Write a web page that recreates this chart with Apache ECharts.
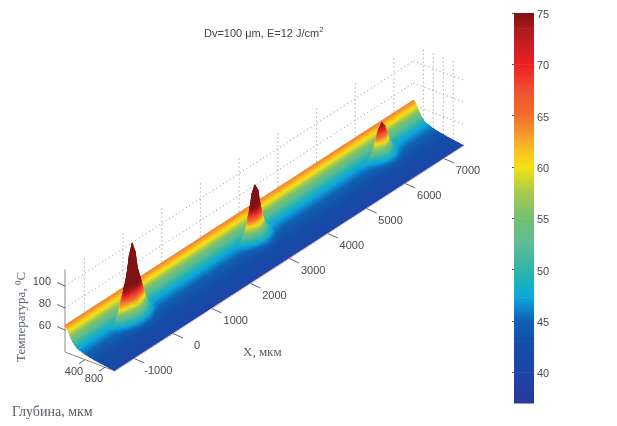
<!DOCTYPE html>
<html><head><meta charset="utf-8">
<style>html,body{margin:0;padding:0;background:#fefefe}#c{width:617px;height:426px;filter:blur(.7px)}</style>
<script src="https://cdn.jsdelivr.net/npm/echarts@6/dist/echarts.min.js"></script>
</head><body><div id="c"></div>
<script>
// ---------- values ----------
const colorT   = [37,40,43,45,46,47.3,48.5,50,52.5,55,57.5,60,61.5,63,65,67.5,70,72,73.5,75];
const colorHex = ['#2a3a9c','#1c44a6','#134ea9','#1060b2','#0d80c8','#0ea5dc','#18b0c0','#30b5a8','#5fbb94','#72c070','#a8c94f','#f2e311','#fac41e','#f59c2a','#f0702d','#ee4f2e','#ec2126','#c81d22','#a81a1c','#7f1212'];
const colorbarTicks = [40,45,50,55,60,65,70,75];
const xTicks = [-1000,0,1000,2000,3000,4000,5000,6000,7000];
const depthTicks = [400,800];
const tempTicks = [60,80,100];
const farWallDepths = [200,400,600,800];

const depthGrid    = [0,25,50,75,100,130,160,200,240,270,300,330,360,400,450,500,600,700,800,900,1000];
const baseProfile  = [64,63,61.5,59.5,57,54,52,49.8,48,47.4,46.8,46.3,45.8,45.2,44.6,44,43.2,42.4,41.7,41,40.4];
const peakDepths   = [100,130,160,200,240,270,300,330,360,400,450,500,600];
const peakOffsets  = [0,70,130,200,280,400];
const peakCenters  = [-150,3020,6300];
const peak1Rows = [
 [59,57,55,55,72,100,113,98,72,58,51,47.5,44],
 [58.5,56.3,54.4,54,68,92,104,90,68,56,50.5,47,43.9],
 [58,55.8,53.8,53,64,80,88,78,62,54,50,46.7,43.8],
 [57.5,55.2,53.2,52,60,72,78,70,58,52,49,46.3,43.6],
 [57.2,54.6,52.7,51,54,62,66,60,53,50,47.5,45.5,43.4],
 [57,54.1,52.1,50,49,50,50.5,49,47.5,47,45.5,44.5,43.3]];
const peak2Rows = [
 [58,55.5,54,53,66,86,94,84,64,54,50,47,44],
 [57.7,55.1,53.4,52.5,62,78,88,76,60,53,49.5,46.5,43.8],
 [57.4,54.6,52.8,51.5,57,68,74,66,56,51.5,48.5,46,43.6],
 [57.2,54.3,52.4,50.7,52.5,58,61,57,52.5,50,47.3,45.5,43.4],
 [57.1,54.1,52.2,50.1,49.5,51.5,53,51,49,47.8,46,44.8,43.3],
 [57,54,52,49.9,48.2,48,47.7,47,46.3,45.8,45,44.2,43.2]];
const peak3Rows = [
 [57.5,55,53.5,52,60,72,76,70,60,53,49.5,46.5,44],
 [57.4,54.8,53.2,51.5,58,68,72,66,57,51.5,49,46.2,43.8],
 [57.2,54.5,52.7,50.8,54,61,65,60,53.5,50,48,45.8,43.6],
 [57.1,54.2,52.3,50.2,50.5,54,56,53,50,48.4,46.8,45.3,43.4],
 [57,54.1,52.1,49.9,48.8,50,50.5,49,47.5,46.9,45.6,44.6,43.3],
 [57,54,52,49.8,48.1,47.8,47.4,46.8,46.2,45.6,44.9,44.2,43.2]];
const peakRows = [peak1Rows,peak2Rows,peak3Rows];
const xRange = [-1500,7500], depthRange = [0,1000], tempRange = [40,115];

// ---------- oblique view of the 3-D box ----------
const view = {ox:65, oy:352, xx:.0387, xy:-.025, dx:.05, dy:.019, tz:1.1};
function project(X,d,T){
  const u = X-xRange[0];
  return [view.ox+view.xx*u+view.dx*d, view.oy+view.xy*u+view.dy*d-view.tz*(T-tempRange[0])];
}
function hexRgb(h){return [1,3,5].map(i=>parseInt(h.substr(i,2),16));}
const colorRgb = colorHex.map(hexRgb);
function colorOf(T){
  if(T<=colorT[0]) return colorHex[0];
  const n=colorT.length-1;
  if(T>=colorT[n]) return colorHex[n];
  let i=0; while(T>colorT[i+1]) i++;
  const f=(T-colorT[i])/(colorT[i+1]-colorT[i]);
  const c=colorRgb[i].map((v,k)=>Math.round(v+(colorRgb[i+1][k]-v)*f));
  return 'rgb('+c.join(',')+')';
}
// surface rows
let surfaceX = [xRange[0],xRange[1]];
peakCenters.forEach(c=>{
  surfaceX.push(c-560,c+560);
  peakOffsets.forEach(o=>{surfaceX.push(c+o); if(o) surfaceX.push(c-o);});
});
surfaceX = surfaceX.sort((a,b)=>b-a); // far end first
function rowAt(X){
  for(let j=0;j<peakCenters.length;j++){
    const k=peakOffsets.indexOf(Math.abs(X-peakCenters[j]));
    if(k>=0) return depthGrid.map((d,i)=>{const q=peakDepths.indexOf(d);return q>=0?peakRows[j][k][q]:baseProfile[i];});
  }
  return baseProfile;
}
const surfaceData=[];
for(let a=0;a<surfaceX.length-1;a++){
  const ra=rowAt(surfaceX[a]), rb=rowAt(surfaceX[a+1]);
  for(let i=0;i<depthGrid.length-1;i++){
    surfaceData.push([surfaceX[a],surfaceX[a+1],depthGrid[i],depthGrid[i+1],ra[i],rb[i],ra[i+1],rb[i+1]]);
  }
}
// one facet shaded so the colour is continuous with its neighbours
function facet(a,b,c,Ta,Tb,Tc){
  const det=(b[0]-a[0])*(c[1]-a[1])-(c[0]-a[0])*(b[1]-a[1]);
  const lo=Math.min(Ta,Tb,Tc), hi=Math.max(Ta,Tb,Tc);
  let paint=colorOf((Ta+Tb+Tc)/3);
  if(Math.abs(det)>1e-3 && hi-lo>1e-3){
    const gx=((Tb-Ta)*(c[1]-a[1])-(b[1]-a[1])*(Tc-Ta))/det;
    const gy=((b[0]-a[0])*(Tc-Ta)-(c[0]-a[0])*(Tb-Ta))/det;
    const g2=gx*gx+gy*gy;
    if(g2>1e-9){
      const s=lo===Ta?a:(lo===Tb?b:c), k=(hi-lo)/g2;
      const stops=[0,.2,.4,.6,.8,1].map(o=>({offset:o,color:colorOf(lo+(hi-lo)*o)}));
      paint=new echarts.graphic.LinearGradient(s[0],s[1],s[0]+gx*k,s[1]+gy*k,stops,true);
    }
  }
  return {type:'polygon',shape:{points:[a,b,c]},style:{fill:paint,stroke:paint,lineWidth:1.2,lineJoin:'round'}};
}
function renderSurface(p,api){
  const v=k=>api.value(k);
  const q=[project(v(0),v(2),v(4)),project(v(1),v(2),v(5)),project(v(1),v(3),v(7)),project(v(0),v(3),v(6))].map(z=>api.coord(z));
  return {type:'group',children:[
    facet(q[0],q[1],q[2],v(4),v(5),v(7)),
    facet(q[0],q[2],q[3],v(4),v(7),v(6))
  ]};
}
// dotted walls
const gridSegs=[];
tempTicks.forEach(T=>{
  gridSegs.push([xRange[0],0,T,xRange[1],0,T]);
  gridSegs.push([xRange[1],0,T,xRange[1],depthRange[1],T]);
});
xTicks.forEach(X=>gridSegs.push([X,0,tempRange[0],X,0,tempRange[1]]));
farWallDepths.forEach(d=>gridSegs.push([xRange[1],d,tempRange[0],xRange[1],d,tempRange[1]]));
function renderSeg(style){
  return function(p,api){
    const a=api.coord(project(api.value(0),api.value(1),api.value(2)));
    const b=api.coord(project(api.value(3),api.value(4),api.value(5)));
    return {type:'line',shape:{x1:a[0],y1:a[1],x2:b[0],y2:b[1]},style:style};
  };
}
// axes lines and ticks
const zAxisSeg=[[xRange[0],0,tempRange[0],xRange[0],0,tempRange[1]]];
const dAxisSeg=[[xRange[0],0,tempRange[0],xRange[0],depthRange[1],tempRange[0]]];
const xAxisSeg=[[xRange[0],depthRange[1],tempRange[0],xRange[1],depthRange[1],tempRange[0]]];
function tickRender(getBase,dx,dy,lx,ly,align){
  return function(p,api){
    const val=api.value(0);
    const b=api.coord(project.apply(null,getBase(val)));
    return {type:'group',children:[
      {type:'line',shape:{x1:b[0],y1:b[1],x2:b[0]+dx,y2:b[1]+dy},style:{stroke:'#666',lineWidth:1}},
      {type:'text',x:b[0]+lx,y:b[1]+ly,style:{text:String(val),fill:'#4a4a4a',font:'11px "Liberation Sans"',align:align,verticalAlign:'middle'}}
    ]};
  };
}
// colorbar cells
const colorbarCells=colorT.slice(0,-1).map((t,i)=>[t,colorT[i+1],i]);
function renderColorCell(p,api){
  const a=api.coord([0,api.value(0)]), b=api.coord([1,api.value(1)]);
  const i=api.value(2);
  return {type:'rect',shape:{x:a[0],y:b[1],width:b[0]-a[0],height:a[1]-b[1]+.5},
    style:{fill:new echarts.graphic.LinearGradient(0,a[1],0,b[1],[{offset:0,color:colorHex[i]},{offset:1,color:colorHex[i+1]}],true)}};
}
const chart=echarts.init(document.getElementById('c'));
const hidden={show:false};
chart.setOption({
  backgroundColor:'#fefefe',animation:false,
  title:{left:199,top:21,text:'{a|Dv=100 μm, E=12 J/cm}{s|2}',
    textStyle:{fontWeight:'normal',rich:{a:{fontFamily:'Liberation Sans',fontWeight:'normal',fontSize:11,color:'#444',lineHeight:15},
                     s:{fontFamily:'Liberation Sans',fontWeight:'normal',fontSize:7.5,color:'#444',lineHeight:15,verticalAlign:'top'}}}},
  grid:[{left:0,top:0,width:617,height:426},{left:514,top:13,width:20,height:390}],
  xAxis:[{type:'value',min:0,max:617,gridIndex:0,...hidden},{type:'value',min:0,max:1,gridIndex:1,...hidden}],
  yAxis:[{type:'value',min:0,max:426,inverse:true,gridIndex:0,...hidden},
    {type:'value',min:37,max:75,gridIndex:1,position:'right',splitLine:hidden,
     axisLine:{show:true,lineStyle:{color:'#b09a9a',width:1}},
     axisTick:{show:true,inside:true,length:2,customValues:colorbarTicks,lineStyle:{color:'#555'}},
     axisLabel:{customValues:colorbarTicks,margin:3,formatter:'{v|{value}}',
       rich:{v:{color:'#4a4a4a',fontSize:11,fontFamily:'Liberation Sans',padding:[4,0,0,0]}}}}],
  graphic:[
    {type:'text',left:12,top:405,style:{text:'Глубина, мкм',font:'14px "Liberation Serif"',fill:'#5a6068'}},
    {type:'text',left:243,top:346,style:{text:'X, мкм',font:'13px "Liberation Serif"',fill:'#56606a'}},
    {type:'text',x:22,y:362,rotation:Math.PI/2,style:{text:'{a|Температура, }{s|0}{a|C}',
      rich:{a:{font:'13px "Liberation Serif"',fill:'#5a6470',lineHeight:16},s:{font:'9px "Liberation Serif"',fill:'#5a6470',lineHeight:16,verticalAlign:'top'}},verticalAlign:'middle'}}
  ],
  series:[
    {type:'custom',name:'walls',z:1,silent:true,xAxisIndex:0,yAxisIndex:0,data:gridSegs,
     renderItem:renderSeg({stroke:'#777',lineWidth:.8,lineDash:[1,3]})},
    {type:'custom',name:'z axis',z:1,silent:true,xAxisIndex:0,yAxisIndex:0,data:zAxisSeg,renderItem:renderSeg({stroke:'#8a8a8a',lineWidth:1})},
    {type:'custom',name:'depth axis',z:1,silent:true,xAxisIndex:0,yAxisIndex:0,data:dAxisSeg,renderItem:renderSeg({stroke:'#8a8a8a',lineWidth:1})},
    {type:'custom',name:'surface',z:2,silent:true,xAxisIndex:0,yAxisIndex:0,progressive:0,data:surfaceData,renderItem:renderSurface},
    {type:'custom',name:'x axis',z:3,silent:true,xAxisIndex:0,yAxisIndex:0,data:xAxisSeg,renderItem:renderSeg({stroke:'#e6c4cc',lineWidth:1})},
    {type:'custom',name:'x ticks',z:3,silent:true,xAxisIndex:0,yAxisIndex:0,data:xTicks.map(v=>[v]),
     renderItem:tickRender(v=>[v,depthRange[1],tempRange[0]],10,4.5,24,12,'center')},
    {type:'custom',name:'depth ticks',z:3,silent:true,xAxisIndex:0,yAxisIndex:0,data:depthTicks.map(v=>[v]),
     renderItem:tickRender(v=>[xRange[0],v,tempRange[0]],-6,4,-11,12,'center')},
    {type:'custom',name:'temp ticks',z:3,silent:true,xAxisIndex:0,yAxisIndex:0,data:tempTicks.map(v=>[v]),
     renderItem:tickRender(v=>[xRange[0],0,v],-8,-3.5,-14,-4,'right')},
    {type:'custom',name:'colorbar',z:2,silent:true,xAxisIndex:1,yAxisIndex:1,data:colorbarCells,renderItem:renderColorCell}
  ]
});
</script></body></html>
